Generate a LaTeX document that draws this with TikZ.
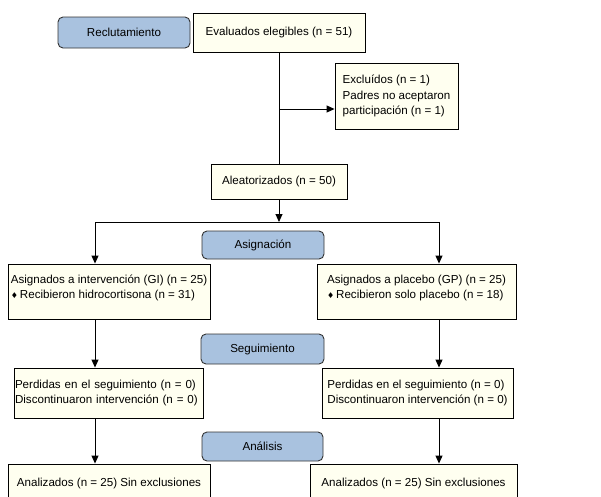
\documentclass[tikz,border=0pt]{standalone}
\usepackage{fontspec}
\setmainfont{Liberation Sans}
\newfontfamily\symfont{DejaVu Sans}
\usetikzlibrary{arrows.meta}
\tikzset{>={Triangle[width=7pt,length=8pt]}}
\definecolor{crema}{HTML}{FFFFF0}
\definecolor{azul}{HTML}{A9C2DF}
\tikzset{
  caja/.style={draw=black, fill=crema, line width=0.9pt, align=left, inner sep=0pt},
  fase/.style={draw=black!80, fill=azul, line width=0.9pt, rounded corners=5pt, inner sep=0pt},
}
\newcommand\rombo{{\symfont\footnotesize\char"2666}}

\begin{document}
\begin{tikzpicture}[x=1pt, y=-1pt, line width=0.9pt]

  \fontsize{11.6}{15.7}\selectfont

  %% <bounding box>
  \useasboundingbox (0,0) rectangle (601,496);
  \clip (0,0) rectangle (601,496);
  % </bounding box>

  % fases
  \node[fase, minimum width=132pt, minimum height=31pt] (recl) at (124,32.5) {Reclutamiento};
  \node[fase, minimum width=122pt, minimum height=28pt] (asig) at (263,245) {Asignación};
  \node[fase, minimum width=123pt, minimum height=30pt] (segu) at (262.5,349) {Seguimiento};
  \node[fase, minimum width=121pt, minimum height=29pt] (anal) at (262.5,446.5) {Análisis};

  % cajas
  \node[caja, minimum width=172pt, minimum height=39pt] (eval) at (279,32.5) {Evaluados elegibles (n = 51)};
  \node[caja, minimum width=123pt, minimum height=66pt] (excl) at (396.5,96)
    {Excluídos (n = 1)\\Padres no aceptaron\\participación (n = 1)};
  \node[caja, minimum width=136pt, minimum height=35pt] (alea) at (279,181.5) {Aleatorizados (n = 50)};

  \node[caja, minimum width=202pt, minimum height=55pt] (gi) at (109,291.5)
    {Asignados a intervención (GI) (n = 25)\\\rombo\,Recibieron hidrocortisona (n = 31)\\[-6pt]~};
  \node[caja, minimum width=199pt, minimum height=55pt] (gp) at (416.5,291.5)
    {Asignados a placebo (GP) (n = 25)\\\rombo\,Recibieron solo placebo (n = 18)\\[-6pt]~};

  \node[caja, minimum width=189pt, minimum height=50pt, text width=187pt, inner xsep=1pt] (perdL) at (108.5,393)
    {Perdidas en el seguimiento (n = 0)\\Discontinuaron intervención (n = 0)};
  \node[caja, minimum width=191pt, minimum height=50pt] (perdR) at (417.5,393)
    {Perdidas en el seguimiento (n = 0)\\Discontinuaron intervención (n = 0)};

  \node[caja, minimum width=202pt, minimum height=38pt] (anL) at (109,483) {Analizados (n = 25) Sin exclusiones};
  \node[caja, minimum width=207pt, minimum height=38pt] (anR) at (413.5,483) {Analizados (n = 25) Sin exclusiones};

  % conectores
  \coordinate (exc) at (279,109);
  \coordinate (jL) at (95,222);
  \coordinate (jR) at (439,222);

  \draw (eval.south) -- (alea.north);
  \draw[->] (exc) -- (exc -| excl.west);
  \draw[->] (alea.south) -- (alea.south |- jL);
  \draw (jL) -- (jR);

  \draw[->] (jL) -- (jL |- gi.north);
  \draw[->] (jR) -- (jR |- gp.north);
  \draw[->] (jL |- gi.south) -- (jL |- perdL.north);
  \draw[->] (jR |- gp.south) -- (jR |- perdR.north);
  \draw[->] (jL |- perdL.south) -- (jL |- anL.north);
  \draw[->] (jR |- perdR.south) -- (jR |- anR.north);

\end{tikzpicture}
\end{document}
